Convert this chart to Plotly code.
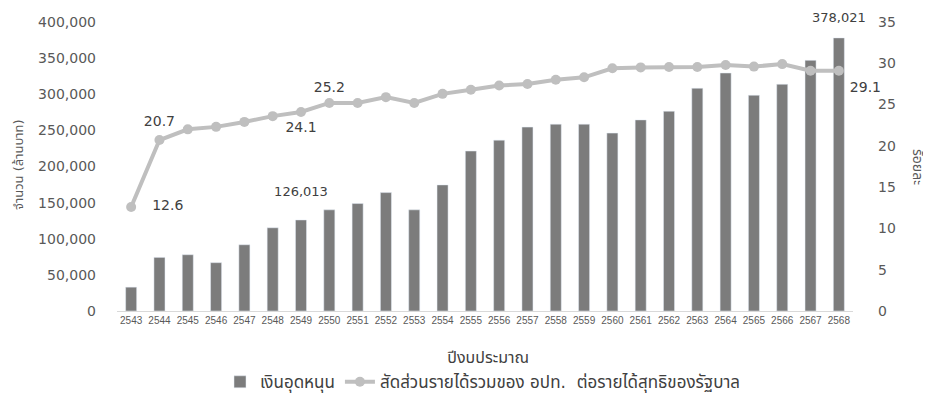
import plotly.graph_objects as go

years = [str(y) for y in range(2543, 2569)]
investment = [33000, 74200, 77900, 66900, 91700, 115200, 126013, 140000, 148700, 163900,
              140000, 174500, 221400, 236500, 254500, 258600, 258600, 246200, 264500, 276500,
              308300, 329400, 298600, 313800, 346900, 378021]
ratio = [12.6, 20.7, 22.0, 22.3, 22.9, 23.6, 24.1, 25.2, 25.2, 25.9,
         25.2, 26.3, 26.8, 27.3, 27.5, 28.0, 28.3, 29.4, 29.5, 29.55,
         29.55, 29.8, 29.6, 29.9, 29.1, 29.1]

bar_label_years = ["2549", "2568"]
ratio_label_years = ["2543", "2544", "2549", "2550", "2568"]

FONT = "Tahoma, 'DejaVu Sans', 'Noto Sans Thai', 'Noto Sans', sans-serif"
TXT = "#404040"
AX = "#595959"

# page body adds an 8px margin; work in reference pixel coords and shift
OFF = 8
W, H = 931 - OFF, 417 - OFF
L_PX, R_PX, T_PX, B_PX = 117, 853, 21.5, 311.5          # plot area in reference px
l, r, t, b = L_PX - OFF, 931 - R_PX, T_PX - OFF, 417 - B_PX
pw, ph = R_PX - L_PX, B_PX - T_PX


def px_x(x):
    return (x - L_PX) / pw


def px_y(y):
    return (B_PX - y) / ph


fig = go.Figure()
fig.add_trace(go.Bar(
    x=years, y=investment, name="เงินอุดหนุน",
    marker=dict(color="#7c7c7c"),
))
fig.add_trace(go.Scatter(
    x=years, y=ratio, name="สัดส่วนรายได้รวมของ อปท.  ต่อรายได้สุทธิของรัฐบาล",
    yaxis="y2", mode="lines+markers",
    line=dict(color="#bfbfbf", width=4),
    marker=dict(color="#bfbfbf", size=10),
))

# data labels (invisible marker size sets the label offset)
bl_idx = [years.index(y) for y in bar_label_years]
fig.add_trace(go.Scatter(
    x=[years[i] for i in bl_idx], y=[investment[i] for i in bl_idx],
    text=[f"{investment[i]:,}" for i in bl_idx], mode="markers+text",
    textposition="top center", cliponaxis=False, showlegend=False, hoverinfo="skip",
    marker=dict(size=[31, 18], opacity=0),
    textfont=dict(size=13, color=TXT, family=FONT),
))
rl_idx = [years.index(y) for y in ratio_label_years]
fig.add_trace(go.Scatter(
    x=[years[i] for i in rl_idx], y=[ratio[i] for i in rl_idx], yaxis="y2",
    text=[f"{ratio[i]:.1f}" for i in rl_idx], mode="markers+text",
    textposition=["middle right", "top center", "bottom center", "top center", "bottom right"],
    cliponaxis=False, showlegend=False, hoverinfo="skip",
    marker=dict(size=[32, 15, 13, 10, 16], opacity=0),
    textfont=dict(size=14, color=TXT, family=FONT),
))

fig.update_layout(
    width=W, height=H,
    margin=dict(l=l, r=r, t=t, b=b, autoexpand=False),
    paper_bgcolor="white", plot_bgcolor="white",
    font=dict(family=FONT, color=AX),
    bargap=0.61,
    showlegend=True,
    legend=dict(orientation="h", x=px_x(483), xanchor="center", y=px_y(383), yanchor="middle",
                font=dict(size=17, color=TXT)),
    xaxis=dict(type="category", range=[-0.5, len(years) - 0.5], showgrid=False,
               showline=True, linecolor="#d9d9d9",
               linewidth=1, ticks="", tickangle=0, automargin=False,
               tickfont=dict(size=10, color=AX, family="'Liberation Sans Narrow', 'Liberation Sans', Arial, sans-serif")),
    yaxis=dict(range=[0, 400000], dtick=50000, tickformat=",", showgrid=False,
               zeroline=False, showline=False, ticks="", ticklabelstandoff=20, automargin=False,
               tickfont=dict(size=14, color=AX)),
    yaxis2=dict(range=[0, 35], dtick=5, overlaying="y", side="right", showgrid=False,
                zeroline=False, showline=False, ticks="", ticklabelstandoff=24, automargin=False,
                tickfont=dict(size=14, color=AX)),
    annotations=[
        dict(text="จำนวน (ล้านบาท)", x=px_x(18), y=px_y(165), xref="paper", yref="paper",
             xanchor="center", yanchor="middle",
             showarrow=False, textangle=-90, font=dict(size=13, color=AX)),
        dict(text="ร้อยละ", x=px_x(918), y=px_y(167), xref="paper", yref="paper",
             xanchor="center", yanchor="middle",
             showarrow=False, textangle=90, font=dict(size=14, color=AX)),
        dict(text="ปีงบประมาณ", x=px_x(488), y=px_y(358), xref="paper", yref="paper",
             xanchor="center", yanchor="middle",
             showarrow=False, font=dict(size=16, color=TXT)),
    ],
)

fig.write_html("out.html")
